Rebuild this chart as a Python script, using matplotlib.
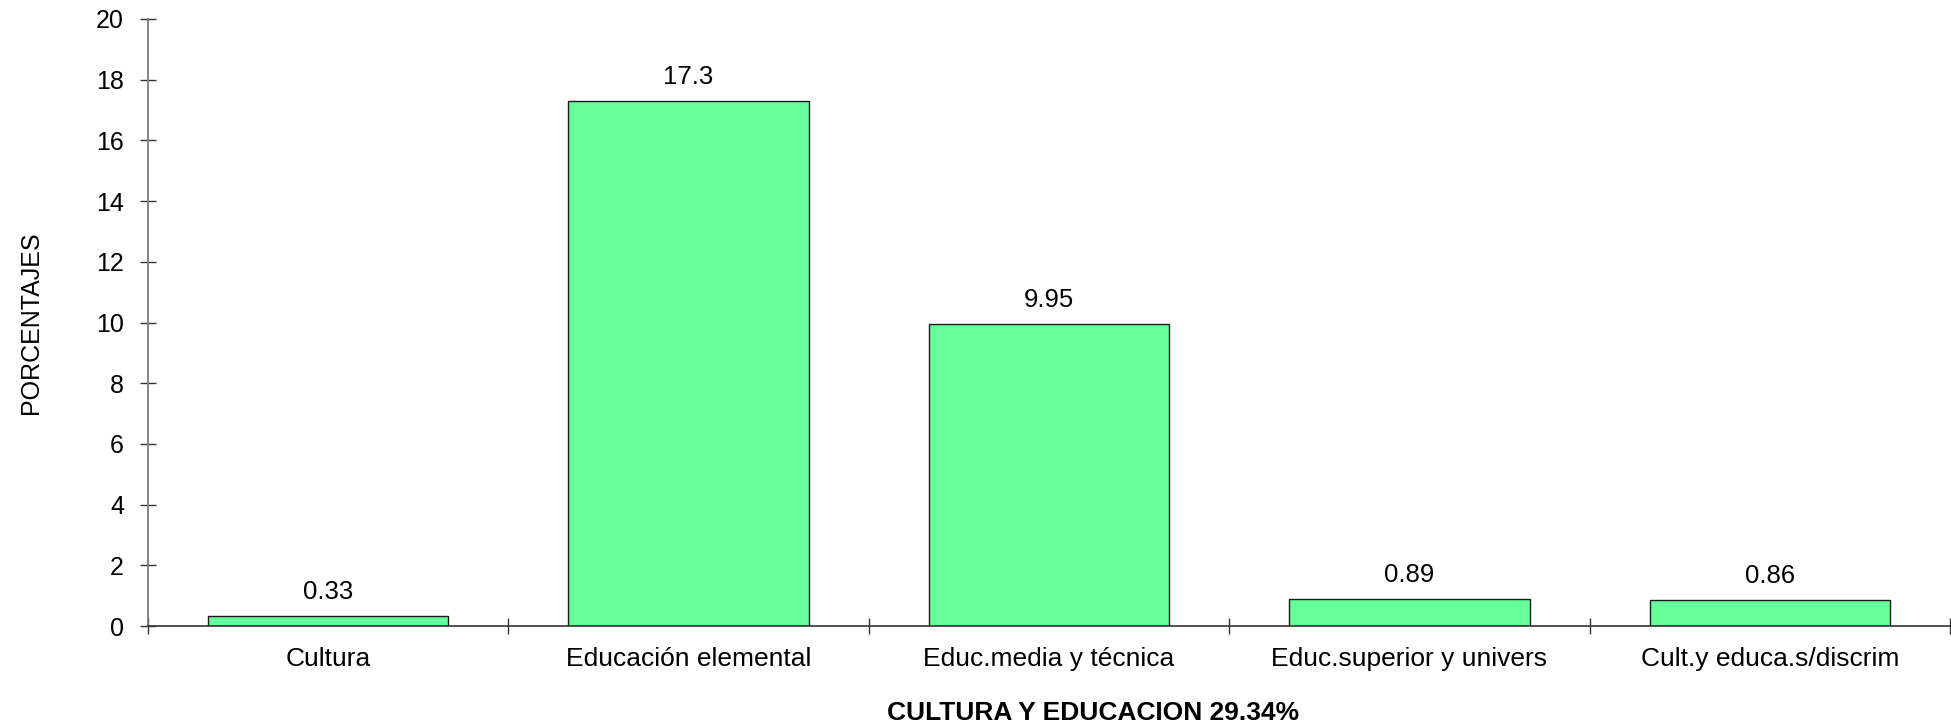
import numpy as np
import matplotlib.pyplot as plt
from matplotlib.ticker import FixedLocator

categories = ['Cultura', 'Educación elemental', 'Educ.media y técnica',
              'Educ.superior y univers', 'Cult.y educa.s/discrim']
values = [0.33, 17.3, 9.95, 0.89, 0.86]
value_labels = ['0.33', '17.3', '9.95', '0.89', '0.86']
yticks = [0, 2, 4, 6, 8, 10, 12, 14, 16, 18, 20]

plt.rcParams['font.family'] = ['Liberation Sans', 'DejaVu Sans']

fig = plt.figure(figsize=(19.51, 7.28), dpi=100)
left, right, top, bottom = 148 / 1951, 1950 / 1951, 1 - 19 / 728, 1 - 626 / 728
ax = fig.add_axes([left, bottom, right - left, top - bottom])

x = np.arange(len(categories))
ax.bar(x, values, width=2 / 3, color='#66FF99', edgecolor='#1a1a1a', linewidth=1.0)

# value labels above bars
for xi, v, lab in zip(x, values, value_labels):
    ax.annotate(lab, (xi, v), xytext=(0, 8.6), textcoords='offset points',
                ha='center', va='bottom', fontsize=18.5)

ax.set_xlim(-0.5, len(categories) - 0.5)
ax.set_ylim(0, 20)
ax.set_yticks(yticks)
ax.set_xticks(x)
ax.set_xticklabels(categories, fontsize=19, va='baseline')
ax.xaxis.set_minor_locator(FixedLocator(np.arange(-0.5, len(categories), 1.0)))

ax.tick_params(axis='x', which='major', length=0, pad=28.8)
ax.tick_params(axis='x', which='minor', direction='inout', length=11.5, width=1, color='#333333')
ax.tick_params(axis='y', direction='inout', length=11.5, width=1, color='#333333',
               labelsize=18, pad=11.5)

for s in ['top', 'right']:
    ax.spines[s].set_visible(False)
ax.spines['left'].set_color('#7a7a7a')
ax.spines['bottom'].set_color('#333333')
ax.spines['left'].set_linewidth(1.3)
ax.spines['bottom'].set_linewidth(1.2)

ax.set_ylabel('PORCENTAJES', fontsize=18, labelpad=38)
fig.text(1093 / 1951, 1 - 720 / 728, 'CULTURA Y EDUCACION 29.34%', ha='center', va='baseline',
         fontsize=19, fontweight='bold')

fig.savefig('out.png', dpi=100)
